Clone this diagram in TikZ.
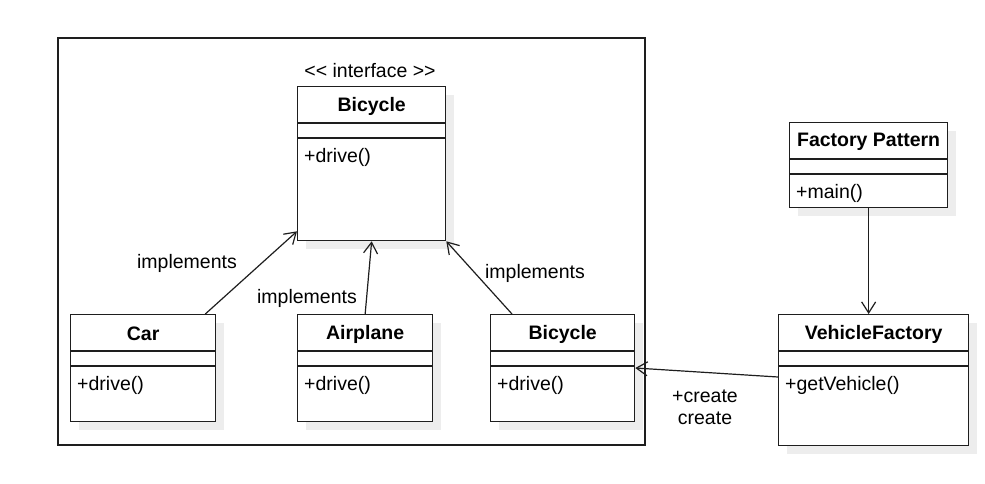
\documentclass[tikz,border=0pt]{standalone}
\usepackage{fontspec}
\setmainfont{Liberation Sans}
\usetikzlibrary{arrows.meta,calc}
\definecolor{shadowgray}{HTML}{EDEDED}
\definecolor{umlline}{HTML}{1E1E1E}
\newcommand{\umlfont}{\fontsize{19.5}{22}\selectfont}
\tikzset{
  classbox/.style={draw=umlline,line width=1.3pt,fill=white,inner sep=0pt},
  uses/.style={draw=umlline,line width=1.2pt,-{Straight Barb[length=11pt,width=14pt]}},
}
% class box: name, x, y, width, height, title, method
\newcommand{\umlclass}[7]{%
  \fill[shadowgray] (#2+9,#3+9) rectangle ++(#4,#5);
  \node[classbox,minimum width=#4pt,minimum height=#5pt,anchor=north west] (#1) at (#2,#3) {};
  \node[font=\umlfont\bfseries] at ($(#1.north)+(0,20)$) {#6};
  \draw[umlline,line width=1.3pt] ($(#1.north west)+(0,37)$) -- ($(#1.north east)+(0,37)$);
  \draw[umlline,line width=1.3pt] ($(#1.north west)+(0,52)$) -- ($(#1.north east)+(0,52)$);
  \node[anchor=west,inner sep=0pt] at ($(#1.north west)+(7,71)$) {#7};
}
\begin{document}
\begin{tikzpicture}[x=1pt,y=-1pt,font=\umlfont]
\useasboundingbox (0,0) rectangle (985,483);
\draw[umlline,line width=1.3pt] (58,38) rectangle (645,445);
\node (stereo) at (370,71) {<\kern0pt< interface >\kern0pt>};
\umlclass{iface}{297}{86}{148}{154}{Bicycle}{+drive()}
\umlclass{car}{70}{314}{145}{107}{Car}{+drive()}
\umlclass{plane}{297}{314}{135}{107}{Airplane}{+drive()}
\umlclass{bike}{490}{314}{144}{107}{Bicycle}{+drive()}
\umlclass{factory}{789}{122}{158}{85}{Factory Pattern}{+main()}
\umlclass{vfactory}{778}{314}{190}{131}{VehicleFactory}{+getVehicle()}
\draw[uses] ($(car.north east)+(-11,0)$) -- ($(iface.south west)+(0,-10)$);
\draw[uses] (plane.north) -- (iface.south);
\draw[uses] ($(bike.north west)+(22,0)$) -- (iface.south east);
\draw[uses] (factory.south) -- (factory.south |- vfactory.north);
\draw[uses] ($(vfactory.north west)+(0,63)$) -- ($(bike.north east)+(0,54)$);
\node (impl1) at (187,263) {implements};
\node (impl2) at (307,298) {implements};
\node (impl3) at (535,273) {implements};
\node[align=center] (create) at (705,407) {+create\\create};
\end{tikzpicture}
\end{document}
